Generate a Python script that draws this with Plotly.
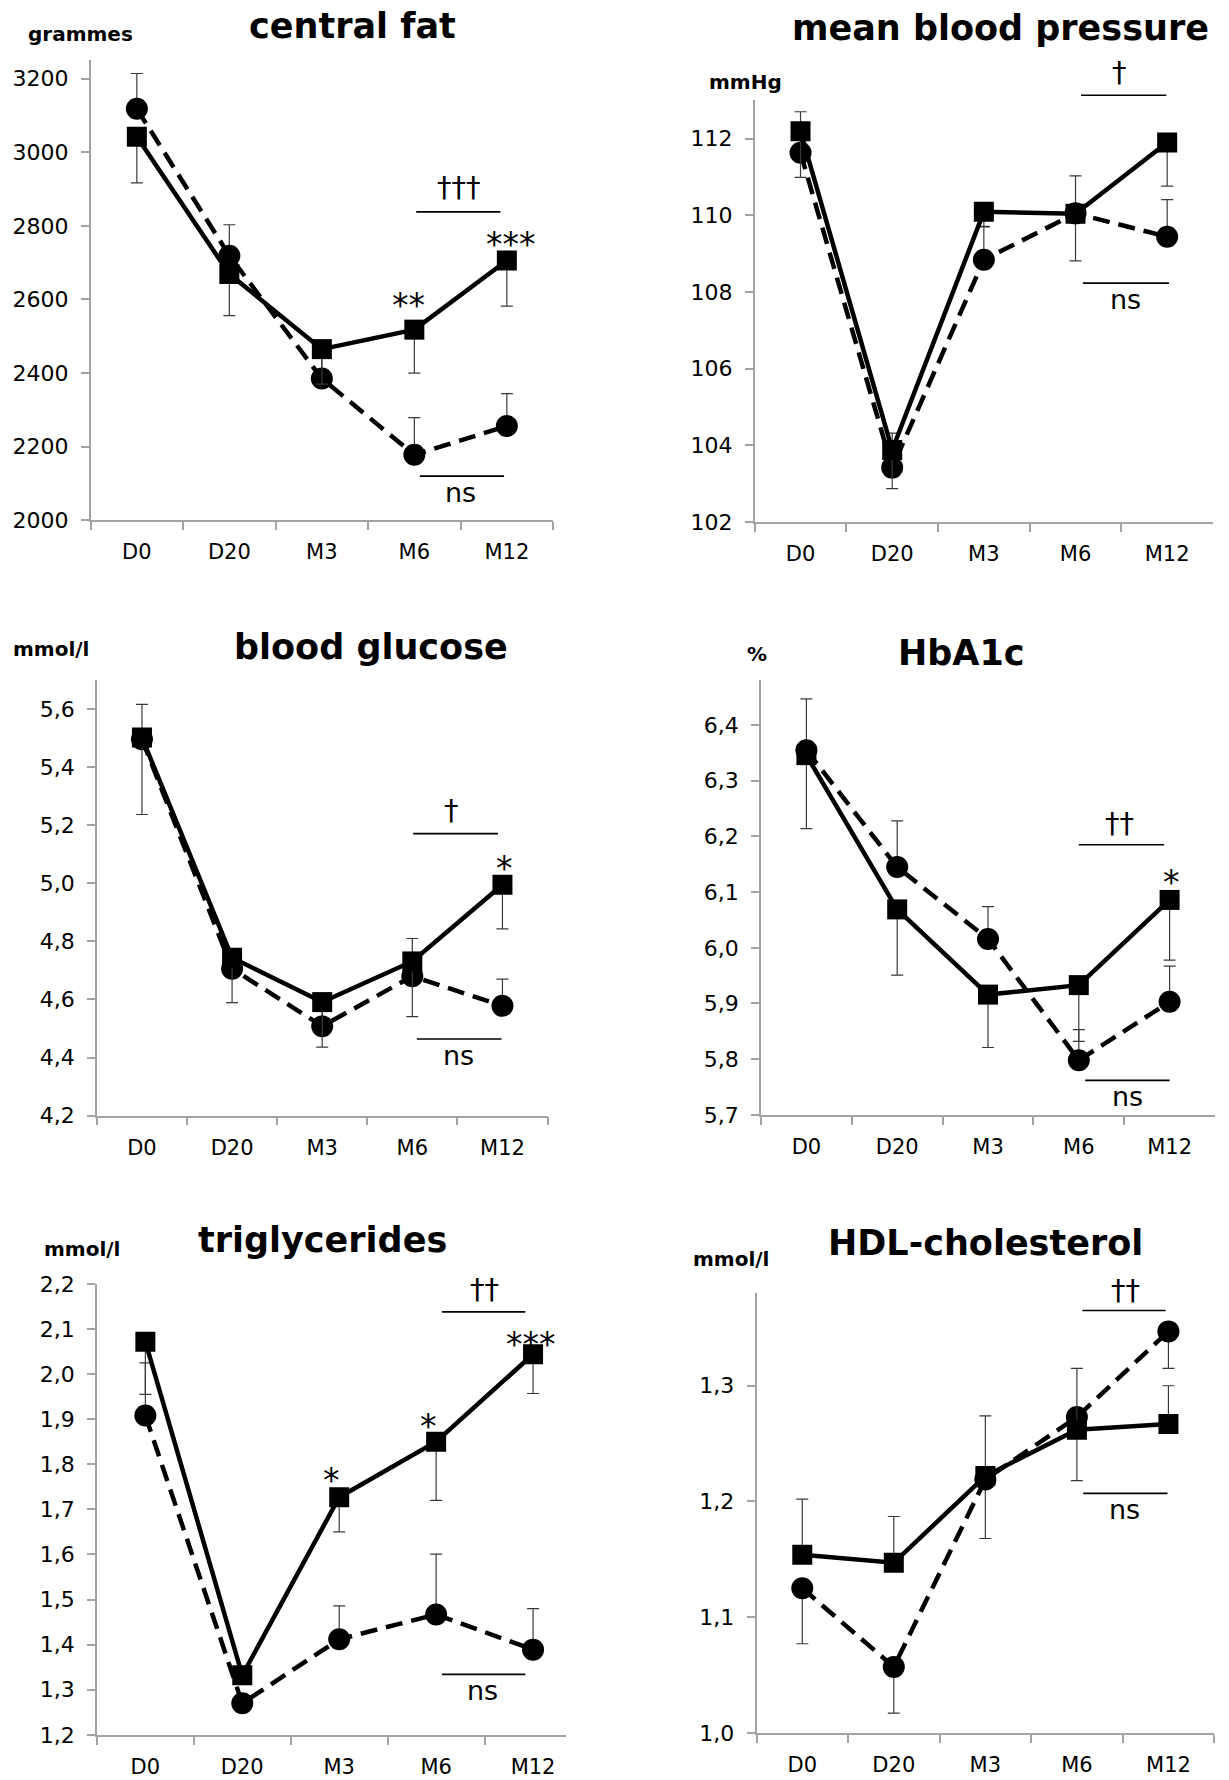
import plotly.graph_objects as go

# ---------------- data ----------------
categories = ["D0", "D20", "M3", "M6", "M12"]

fat_square = [3042, 2669, 2465, 2518, 2706]
fat_square_err_minus = [125, 113, 95, 118, 124]
fat_circle = [3118, 2719, 2385, 2178, 2256]
fat_circle_err_plus = [96, 84, 85, 101, 88]

bp_square = [112.19, 103.88, 110.09, 110.04, 111.90]
bp_square_err_minus = [1.20, 1.01, 0.39, 1.23, 1.14]
bp_circle = [111.63, 103.42, 108.84, 110.05, 109.44]
bp_circle_err_plus = [1.07, 0.90, 0.87, 0.98, 0.97]

glu_square = [5.502, 4.744, 4.591, 4.731, 4.995]
glu_square_err_minus = [0.265, 0.155, 0.155, 0.19, 0.152]
glu_circle = [5.496, 4.706, 4.508, 4.680, 4.578]
glu_circle_err_plus = [0.12, 0.05, 0.06, 0.13, 0.092]

hba_square = [6.346, 6.069, 5.916, 5.933, 6.086]
hba_square_err_minus = [0.132, 0.118, 0.095, 0.101, 0.108]
hba_circle = [6.355, 6.145, 6.016, 5.798, 5.903]
hba_circle_err_plus = [0.092, 0.083, 0.058, 0.055, 0.064]

tg_square = [2.072, 1.332, 1.727, 1.850, 2.044]
tg_square_err_minus = [0.117, 0.02, 0.077, 0.130, 0.087]
tg_circle = [1.908, 1.270, 1.412, 1.467, 1.389]
tg_circle_err_plus = [0.117, 0.02, 0.074, 0.134, 0.091]

hdl_square = [1.154, 1.147, 1.222, 1.262, 1.267]
hdl_square_err_plus = [0.048, 0.040, 0.052, 0.053, 0.033]
hdl_circle = [1.125, 1.057, 1.219, 1.273, 1.347]
hdl_circle_err_minus = [0.048, 0.040, 0.051, 0.055, 0.032]

titles = ["central fat", "mean blood pressure", "blood glucose", "HbA1c",
          "triglycerides", "HDL-cholesterol"]
units = ["grammes", "mmHg", "mmol/l", "%", "mmol/l", "mmol/l"]

# ---------------- style ----------------
W, H = 1229, 1780
FONT = "DejaVu Sans"
GRAY = "#a3a3a3"
ERR = "#3a3a3a"
zeros = [0, 0, 0, 0, 0]

# vertical calibration of the rendered page (measured)
VA, VB = 0.98564, 11.7


def px_x(p):
    return p / W


def px_y(p):
    return 1 - ((p - VB) / VA) / H


panels = [
    dict(sq=fat_square, sq_plus=zeros, sq_minus=fat_square_err_minus,
         ci=fat_circle, ci_plus=fat_circle_err_plus, ci_minus=zeros,
         xpx=(90.6, 553.1), ypx=(59.2, 519.8), yr=(2000, 3252), dtick=200, fmt="d", xmax=4.5,
         title_xy=(352, 25.5), unit_xy=(80.5, 34),
         top=dict(text="†††", x=3.48, y=2905, line=(3.02, 3.93, 2838)),
         bot=dict(text="ns", x=3.50, y=2070, line=(3.06, 3.97, 2120)),
         stars=[("**", 2.94, 2603), ("***", 4.04, 2769)]),
    dict(sq=bp_square, sq_plus=zeros, sq_minus=bp_square_err_minus,
         ci=bp_circle, ci_plus=bp_circle_err_plus, ci_minus=zeros,
         xpx=(754.7, 1213), ypx=(99.9, 521.6), yr=(102, 113), dtick=2, fmt="d", xmax=4.5,
         title_xy=(1000.5, 27.5), unit_xy=(745, 81.5),
         top=dict(text="†", x=3.48, y=113.74, line=(3.06, 3.99, 113.13)),
         bot=dict(text="ns", x=3.54, y=107.75, line=(3.08, 4.02, 108.23)),
         stars=[]),
    dict(sq=glu_square, sq_plus=zeros, sq_minus=glu_square_err_minus,
         ci=glu_circle, ci_plus=glu_circle_err_plus, ci_minus=zeros,
         xpx=(96.9, 547.5), ypx=(679.5, 1115), yr=(4.2, 5.7), dtick=0.2, fmt=".1f", xmax=4.5,
         title_xy=(371, 646.5), unit_xy=(51, 648),
         top=dict(text="†", x=3.43, y=5.253, line=(3.01, 3.95, 5.171)),
         bot=dict(text="ns", x=3.51, y=4.40, line=(3.05, 3.99, 4.464)),
         stars=[("*", 4.02, 5.075)]),
    dict(sq=hba_square, sq_plus=zeros, sq_minus=hba_square_err_minus,
         ci=hba_circle, ci_plus=hba_circle_err_plus, ci_minus=zeros,
         xpx=(761, 1215), ypx=(679.5, 1114.2), yr=(5.7, 6.481), dtick=0.1, fmt=".1f", xmax=4.5,
         title_xy=(961.7, 652), unit_xy=(757, 653.5),
         top=dict(text="††", x=3.45, y=6.225, line=(3.00, 3.94, 6.185)),
         bot=dict(text="ns", x=3.54, y=5.73, line=(3.07, 4.00, 5.762)),
         stars=[("*", 4.02, 6.129)]),
    dict(sq=tg_square, sq_plus=zeros, sq_minus=tg_square_err_minus,
         ci=tg_circle, ci_plus=tg_circle_err_plus, ci_minus=zeros,
         xpx=(96.9, 566), ypx=(1283.2, 1734), yr=(1.2, 2.2), dtick=0.1, fmt=".1f", xmax=4.34,
         title_xy=(322, 1239), unit_xy=(82.3, 1248.5),
         top=dict(text="††", x=3.50, y=2.188, line=(3.06, 3.92, 2.138)),
         bot=dict(text="ns", x=3.48, y=1.295, line=(3.06, 3.92, 1.334)),
         stars=[("*", 1.92, 1.78), ("*", 2.92, 1.90), ("***", 3.98, 2.081)]),
    dict(sq=hdl_square, sq_plus=hdl_square_err_plus, sq_minus=zeros,
         ci=hdl_circle, ci_plus=zeros, ci_minus=hdl_circle_err_minus,
         xpx=(756.5, 1214.2), ypx=(1292.5, 1732), yr=(1.0, 1.38), dtick=0.1, fmt=".1f", xmax=4.5,
         title_xy=(985.8, 1242.5), unit_xy=(731.4, 1258.5),
         top=dict(text="††", x=3.53, y=1.383, line=(3.06, 3.97, 1.365)),
         bot=dict(text="ns", x=3.52, y=1.191, line=(3.07, 3.99, 1.207)),
         stars=[]),
]

fig = go.Figure()
annotations = []
shapes = []
layout_axes = {}

for i, p in enumerate(panels):
    n = "" if i == 0 else str(i + 1)
    xa, ya = "x" + n, "y" + n
    lo, hi = p["yr"]
    x0r, x1r = -0.5, p["xmax"]

    fig.add_trace(go.Scatter(
        x=categories, y=p["ci"], xaxis=xa, yaxis=ya, mode="lines+markers",
        line=dict(color="black", width=4.5, dash="17px,9px"),
        marker=dict(symbol="circle", size=22, color="black"),
        error_y=dict(type="data", symmetric=False, array=p["ci_plus"],
                     arrayminus=p["ci_minus"], color=ERR, thickness=1.2, width=6),
        showlegend=False, hoverinfo="skip"))
    fig.add_trace(go.Scatter(
        x=categories, y=p["sq"], xaxis=xa, yaxis=ya, mode="lines+markers",
        line=dict(color="black", width=4.5),
        marker=dict(symbol="square", size=20, color="black"),
        error_y=dict(type="data", symmetric=False, array=p["sq_plus"],
                     arrayminus=p["sq_minus"], color=ERR, thickness=1.2, width=6),
        showlegend=False, hoverinfo="skip"))

    layout_axes["xaxis" + n] = dict(
        domain=[px_x(p["xpx"][0]), px_x(p["xpx"][1])], anchor=ya,
        type="category", categoryorder="array", categoryarray=categories,
        range=[x0r, x1r], tickson="boundaries", ticks="outside", ticklen=8,
        tickwidth=1.5, tickcolor=GRAY, showline=True, linecolor=GRAY, linewidth=1.5,
        showgrid=False, zeroline=False, ticklabelstandoff=12,
        tickfont=dict(family=FONT, size=21, color="black"), fixedrange=True)
    layout_axes["yaxis" + n] = dict(
        domain=[px_y(p["ypx"][1]), px_y(p["ypx"][0])], anchor=xa,
        range=[lo, hi], tick0=lo, dtick=p["dtick"], tickformat=p["fmt"],
        ticks="outside", ticklen=8, tickwidth=1.5, tickcolor=GRAY,
        showline=True, linecolor=GRAY, linewidth=1.5, showgrid=False, zeroline=False,
        ticklabelstandoff=8,
        tickfont=dict(family=FONT, size=22, color="black"), fixedrange=True)

    annotations.append(dict(
        text="<b>%s</b>" % titles[i], x=px_x(p["title_xy"][0]), y=px_y(p["title_xy"][1]),
        xref="paper", yref="paper", xanchor="center", yanchor="middle", showarrow=False,
        font=dict(family=FONT, size=35, color="black")))
    annotations.append(dict(
        text="<b>%s</b>" % units[i], x=px_x(p["unit_xy"][0]), y=px_y(p["unit_xy"][1]),
        xref="paper", yref="paper", xanchor="center", yanchor="middle", showarrow=False,
        font=dict(family=FONT, size=20, color="black")))

    def fx(v):
        return (v - x0r) / (x1r - x0r)

    def fy(v):
        return (v - lo) / (hi - lo)

    for key in ("top", "bot"):
        s = p[key]
        is_ns = s["text"] == "ns"
        annotations.append(dict(
            text=s["text"], x=fx(s["x"]), y=fy(s["y"]), xref=xa + " domain", yref=ya + " domain",
            xanchor="center", yanchor="middle", showarrow=False, yshift=2 if is_ns else 0,
            font=dict(family=FONT, size=27 if is_ns else 29, color="black")))
        lx0, lx1, ly = s["line"]
        shapes.append(dict(
            type="line", xref=xa + " domain", yref=ya + " domain",
            x0=fx(lx0), x1=fx(lx1), y0=fy(ly), y1=fy(ly),
            line=dict(color="black", width=1.6)))
    for txt, sx, sy in p["stars"]:
        annotations.append(dict(
            text=txt, x=fx(sx), y=fy(sy), xref=xa + " domain", yref=ya + " domain",
            xanchor="center", yanchor="middle", showarrow=False, yshift=-7,
            font=dict(family=FONT, size=33, color="black")))

fig.update_layout(
    width=W, height=H, margin=dict(l=0, r=0, t=0, b=0, pad=0),
    paper_bgcolor="white", plot_bgcolor="white",
    separators=", ", showlegend=False,
    annotations=annotations, shapes=shapes, **layout_axes)

fig.write_html("out.html", config={"displayModeBar": False},
               post_script="document.body.style.margin='0';")
